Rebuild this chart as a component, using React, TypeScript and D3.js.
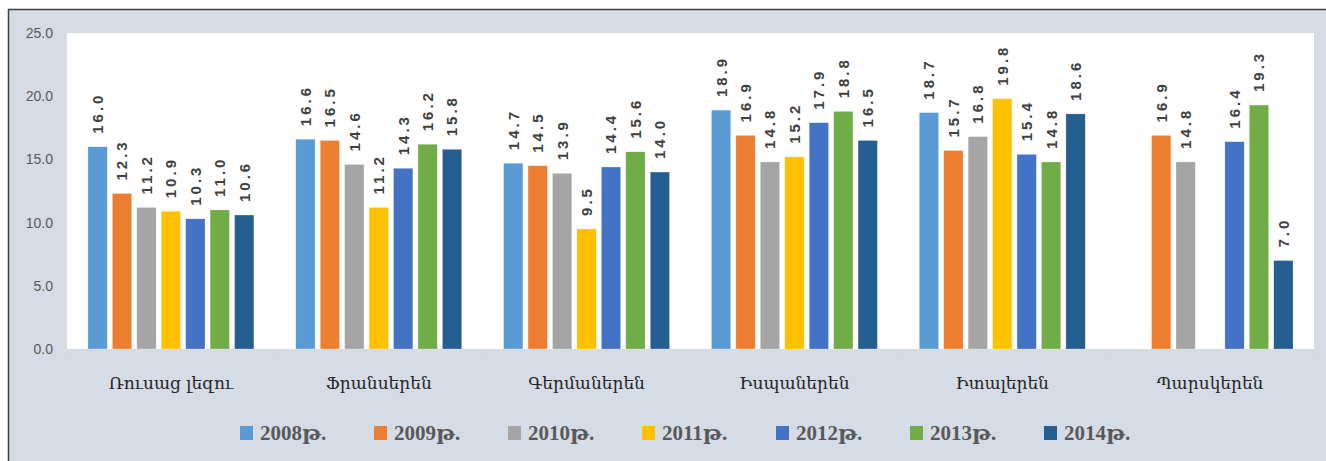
import React from "react";
import * as d3 from "d3";

const categories = ["Ռուսաց լեզու", "Ֆրանսերեն", "Գերմաներեն", "Իսպաներեն", "Իտալերեն", "Պարսկերեն"];
const seriesNames = ["2008թ.", "2009թ.", "2010թ.", "2011թ.", "2012թ.", "2013թ.", "2014թ."];
const colors = ["#5B9BD5", "#ED7D31", "#A5A5A5", "#FFC000", "#4472C4", "#70AD47", "#255E91"];
const v2008 = [16.0, 16.6, 14.7, 18.9, 18.7, null];
const v2009 = [12.3, 16.5, 14.5, 16.9, 15.7, 16.9];
const v2010 = [11.2, 14.6, 13.9, 14.8, 16.8, 14.8];
const v2011 = [10.9, 11.2, 9.5, 15.2, 19.8, null];
const v2012 = [10.3, 14.3, 14.4, 17.9, 15.4, 16.4];
const v2013 = [11.0, 16.2, 15.6, 18.8, 14.8, 19.3];
const v2014 = [10.6, 15.8, 14.0, 16.5, 18.6, 7.0];
const yTicks = [0, 5, 10, 15, 20, 25];

const series = [v2008, v2009, v2010, v2011, v2012, v2013, v2014];

const W = 1326, H = 461;
const plot = { left: 67, right: 1314, top: 33, bottom: 349 };

export default function App() {
  const x0 = d3.scaleBand<string>().domain(categories).range([plot.left, plot.right]).paddingInner(0).paddingOuter(0);
  const x1 = d3.scaleBand<string>().domain(seriesNames).range([18.5, x0.bandwidth() - 18.5]).paddingInner(0.21).paddingOuter(0.1);
  const y = d3.scaleLinear().domain([0, 25]).range([plot.bottom, plot.top]);

  const legendX = d3.scalePoint<string>().domain(seriesNames).range([240, 1044]);

  return (
    <svg width={W} height={H} style={{ position: "absolute", left: 0, top: 0 }}>
      <rect x={0} y={0} width={W} height={H} fill="#fff" />
      <rect x={8} y={9} width={W - 8} height={H - 9} fill="#D6DCE5" />
      <line x1={8} y1={9.5} x2={W} y2={9.5} stroke="#3f3f3f" strokeWidth={1.5} />
      <line x1={8.5} y1={9} x2={8.5} y2={H} stroke="#3f3f3f" strokeWidth={1.5} />
      <rect x={plot.left} y={plot.top} width={plot.right - plot.left} height={plot.bottom - plot.top} fill="#fff" />
      {yTicks.map((t) => (
        <text key={t} x={53} y={y(t)} dy="0.35em" textAnchor="end" fontFamily="Liberation Sans, Arial, sans-serif" fontSize={14} fill="#595959">
          {t.toFixed(1)}
        </text>
      ))}
      <line x1={plot.left} x2={plot.right} y1={plot.bottom + 0.5} y2={plot.bottom + 0.5} stroke="#D9D9D9" />
      {categories.map((c, i) => (
        <line key={"tk" + i} x1={x0(c)! + 0.5} x2={x0(c)! + 0.5} y1={plot.bottom} y2={plot.bottom + 5} stroke="#D9D9D9" />
      ))}
      <line x1={plot.right - 0.5} x2={plot.right - 0.5} y1={plot.bottom} y2={plot.bottom + 5} stroke="#D9D9D9" />
      {categories.map((c, ci) => (
        <g key={c}>
          {series.map((s, si) => {
            const v = s[ci];
            if (v == null) return null;
            const bx = x0(c)! + x1(seriesNames[si])!;
            const bw = x1.bandwidth();
            return (
              <g key={si}>
                <rect x={bx} y={y(v)} width={bw} height={plot.bottom - y(v)} fill={colors[si]} stroke="#fff" strokeOpacity={0.5} strokeWidth={0.5} />
                <text
                  transform={`translate(${bx + bw / 2},${y(v) - 13}) rotate(-90)`}
                  dy="0.36em"
                  textAnchor="start"
                  fontFamily="Liberation Sans, Arial, sans-serif"
                  fontWeight="bold"
                  fontSize={15}
                  letterSpacing={3}
                  fill="#404040"
                >
                  {v.toFixed(1)}
                </text>
              </g>
            );
          })}
          <text x={x0(c)! + x0.bandwidth() / 2} y={389} textAnchor="middle" fontFamily="DejaVu Serif, serif" fontSize={17} fill="#262626">
            {c}
          </text>
        </g>
      ))}
      {seriesNames.map((n, i) => (
        <g key={n} transform={`translate(${legendX(n)},426)`}>
          <rect x={0} y={0} width={13} height={14} fill={colors[i]} />
          <text x={20} y={14} fontFamily="Liberation Serif, DejaVu Serif, serif" fontWeight="bold" fontSize={21} fill="#595959">
            {n}
          </text>
        </g>
      ))}
    </svg>
  );
}
